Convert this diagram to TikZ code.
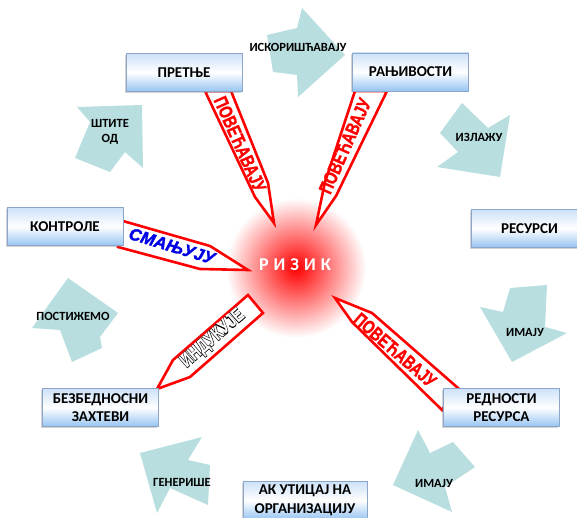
\documentclass[tikz,border=0pt]{standalone}
\usepackage{fontspec}
\setmainfont{Carlito}
\newfontfamily\callfont[FakeStretch=0.76, FakeBold=1.2]{Liberation Sans Bold}
\newfontfamily\hollowback[FakeStretch=0.76, FakeBold=5]{Liberation Sans Bold}
\newfontfamily\hollowfront[FakeStretch=0.76]{Liberation Sans Bold}
\newfontfamily\bluefont[FakeBold=1.6]{Liberation Sans Bold Italic}
\usetikzlibrary{shadows}
\definecolor{cycteal}{RGB}{184,222,224}
\definecolor{boxtop}{RGB}{205,225,248}
\definecolor{boxbot}{RGB}{150,196,242}
\definecolor{boxline}{RGB}{140,165,200}
\tikzset{
  box/.style={rectangle, draw=boxline, line width=.6pt, top color=boxtop,
    bottom color=boxbot, middle color=white, minimum width=116pt,
    minimum height=38pt, align=center, inner sep=1pt,
    font=\bfseries\fontsize{15}{18.5}\selectfont,
    drop shadow={shadow xshift=-1.5pt, shadow yshift=-1.5pt, fill=gray, opacity=.35}},
  cyc/.style={fill=cycteal},
  cyclbl/.style={font=\bfseries\fontsize{12.5}{15}\selectfont, align=center, inner sep=0pt},
  callout/.style={draw=red, line width=2.6pt, fill=white, line join=miter},
  calltxt/.style={font=\callfont\fontsize{19}{20}\selectfont, text=red, inner sep=0pt},
}
\begin{document}
\begin{tikzpicture}[x=1pt,y=-1pt]
  \useasboundingbox (0,0) rectangle (577,518);
  % cycle arrows
  \fill[cyc] (267,35) -- (297,28) -- (302,8) -- (345,55) -- (298,97) -- (297,75) -- (273,72) -- cycle;
  \fill[cyc] (462,103) -- (488,128) -- (510,115) -- (500,177) -- (437,167) -- (458,152) -- (440,133) -- cycle;
  \fill[cyc] (510,288) -- (547,285) -- (545,327) -- (567,333) -- (512,362) -- (480,307) -- (503,312) -- cycle;
  \fill[cyc] (418,430) -- (430,453) -- (453,442) -- (475,467) -- (445,487) -- (452,512) -- (393,485) -- cycle;
  \fill[cyc] (140,453) -- (202,437) -- (188,460) -- (210,465) -- (208,505) -- (170,488) -- (157,513) -- cycle;
  \fill[cyc] (68,278) -- (118,313) -- (100,337) -- (102,348) -- (72,362) -- (60,330) -- (32,328) -- cycle;
  \fill[cyc] (142,105) -- (143,168) -- (125,152) -- (110,172) -- (75,158) -- (90,122) -- (77,107) -- cycle;
  \node[cyclbl] (exploit) at (298,47) {ИСКОРИШЋАВАЈУ};
  \node[cyclbl] (expose) at (479,137) {ИЗЛАЖУ};
  \node[cyclbl] (have1) at (525,332) {ИМАЈУ};
  \node[cyclbl] (have2) at (434,483) {ИМАЈУ};
  \node[cyclbl] (gen) at (182,482) {ГЕНЕРИШЕ};
  \node[cyclbl] (reach) at (73,316) {ПОСТИЖЕМО};
  \node[cyclbl] (protect) at (110,132) {ШТИТЕ\\ОД};
  % risk glow
  \shade[inner color=red, outer color=white] (296,268) circle[radius=70pt];
  % callouts
  \draw[callout] (205,91) -- (231,91) -- (268,183) -- (274,223) -- (255,197) -- cycle;
  \draw[callout] (355,91) -- (325,182) -- (316,225) -- (336,196) -- (387,91) -- cycle;
  \draw[callout] (123,221) -- (210,246) -- (248,270) -- (200,269) -- (118,247) -- cycle;
  \draw[callout] (335,298) -- (372,313) -- (458,388) -- (442,410) -- (352,322) -- cycle;
  \draw[callout] (157,389) -- (173,360) -- (248,295) -- (263,313) -- (190,377) -- cycle;
  \node[calltxt, rotate=-66] (incthr) at (240,144) {ПОВЕЋАВАЈУ};
  \node[calltxt, rotate=66] (incvul) at (345,146) {ПОВЕЋАВАЈУ};
  \node[calltxt, rotate=-41] (incval) at (395,350) {ПОВЕЋАВАЈУ};
  \node[font=\bluefont\fontsize{17}{18}\selectfont, text=blue!90!black,
    rotate=-17, inner sep=0pt] (reduce) at (172,246) {СМАЊУЈУ};
  \node[font=\hollowback\fontsize{19.5}{20}\selectfont, rotate=41, inner sep=0pt]
    (induce) at (213,339) {ИНДУКУЈЕ};
  \node[font=\hollowfront\fontsize{19.5}{20}\selectfont, text=white, rotate=41, inner sep=0pt]
    at (induce.center) {ИНДУКУЈЕ};
  % boxes
  \node[box] (thr) at (184,72.5) {ПРЕТЊЕ};
  \node[box] (vul) at (410.5,72) {РАЊИВОСТИ};
  \node[box] (ctl) at (65,226.5) {КОНТРОЛЕ};
  \node[box] (res) at (529.5,228.5) {РЕСУРСИ};
  \node[box] (val) at (501.5,407.5) {РЕДНОСТИ\\РЕСУРСА};
  \node[box] (req) at (100.5,407.5) {БЕЗБЕДНОСНИ\\ЗАХТЕВИ};
  \node[box, minimum width=124pt] (imp) at (305,500.5) {АК УТИЦАЈ НА\\ОРГАНИЗАЦИЈУ};
  \node[text=white, font=\bfseries\fontsize{18}{20}\selectfont] (risk) at (295,265)
    {Р\kern 5pt И\kern 5pt З\kern 5pt И\kern 5pt К};
\end{tikzpicture}
\end{document}
